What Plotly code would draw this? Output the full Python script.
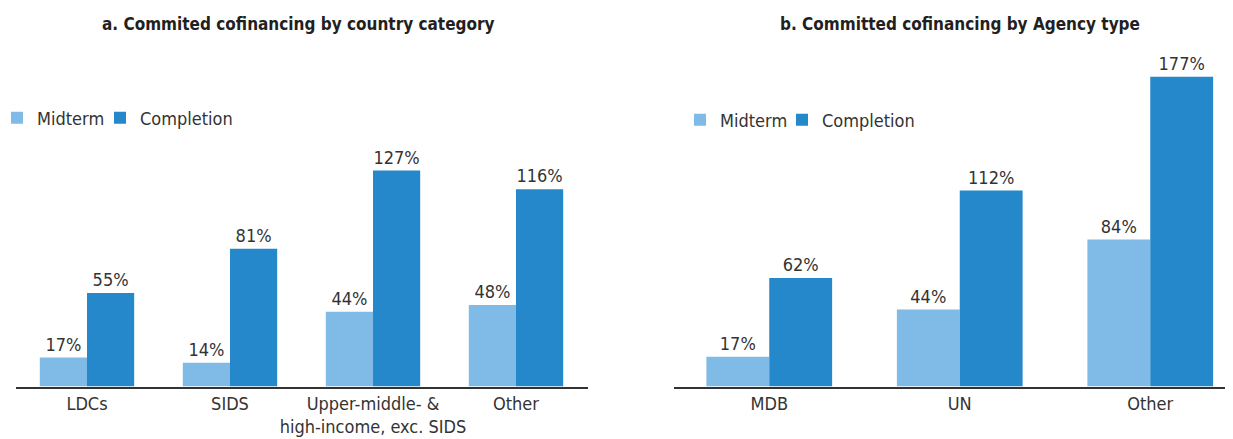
import plotly.graph_objects as go

# Data
cat_a = ["LDCs", "SIDS", "Upper-middle- &<br>high-income, exc. SIDS", "Other"]
mid_a = [17, 14, 44, 48]
comp_a = [55, 81, 127, 116]

cat_b = ["MDB", "UN", "Other"]
mid_b = [17, 44, 84]
comp_b = [62, 112, 177]

series_names = ["Midterm", "Completion"]
c_mid = "#7FBBE6"
c_comp = "#2588CB"

FONT = "DejaVu Sans Condensed, Roboto, sans-serif"
TXT = "#333333"
W, H = 1233, 439
OFF = 8  # page body margin


def px_x(p):
    return (p - OFF) / W


def px_y(p):
    return (H - (p - OFF)) / H


fig = go.Figure()

fig.add_trace(go.Bar(x=cat_a, y=mid_a, name=series_names[0], marker_color=c_mid,
                     text=[f"{v}%" for v in mid_a], textposition="outside",
                     cliponaxis=False, xaxis="x", yaxis="y", legend="legend"))
fig.add_trace(go.Bar(x=cat_a, y=comp_a, name=series_names[1], marker_color=c_comp,
                     text=[f"{v}%" for v in comp_a], textposition="outside",
                     cliponaxis=False, xaxis="x", yaxis="y", legend="legend2"))
fig.add_trace(go.Bar(x=cat_b, y=mid_b, name=series_names[0], marker_color=c_mid,
                     text=[f"{v}%" for v in mid_b], textposition="outside",
                     cliponaxis=False, xaxis="x2", yaxis="y2", legend="legend3"))
fig.add_trace(go.Bar(x=cat_b, y=comp_b, name=series_names[1], marker_color=c_comp,
                     text=[f"{v}%" for v in comp_b], textposition="outside",
                     cliponaxis=False, xaxis="x2", yaxis="y2", legend="legend4"))

fig.update_traces(textfont=dict(family=FONT, size=18, color=TXT), marker_line_width=0)

ybot = px_y(386.5)
ytop = px_y(40)
plot_h = 386.5 - 40

axis_common = dict(showgrid=False, zeroline=False, showline=True, linecolor="#333333",
                   linewidth=1.5, ticks="", tickfont=dict(family=FONT, size=18, color=TXT))

leg_common = dict(orientation="h", xanchor="left", yanchor="middle",
                  font=dict(family=FONT, size=18, color=TXT), bgcolor="rgba(0,0,0,0)",
                  itemwidth=30, tracegroupgap=0)

fig.update_layout(
    width=W, height=H,
    margin=dict(l=0, r=0, t=0, b=0, autoexpand=False),
    paper_bgcolor="white", plot_bgcolor="white",
    barmode="group", bargap=0.34, bargroupgap=0,
    xaxis=dict(domain=[px_x(15.5), px_x(587.5)], range=[-0.5, 3.5], anchor="y", **axis_common),
    yaxis=dict(domain=[ybot, ytop], range=[0, plot_h / 1.7], visible=False, anchor="x"),
    xaxis2=dict(domain=[px_x(674), 1.0], range=[-0.5, -0.5 + (W - (674 - OFF)) / 190.5],
                anchor="y2", **axis_common),
    yaxis2=dict(domain=[ybot, ytop], range=[0, plot_h / 1.75], visible=False, anchor="x2"),
    legend=dict(x=px_x(-3), y=px_y(118), **leg_common),
    legend2=dict(x=px_x(100), y=px_y(118), **leg_common),
    legend3=dict(x=px_x(680), y=px_y(120), **leg_common),
    legend4=dict(x=px_x(782), y=px_y(120), **leg_common),
    showlegend=True,
    annotations=[
        dict(text="<b>a. Commited cofinancing by country category</b>", x=px_x(298), y=px_y(24),
             xref="paper", yref="paper", showarrow=False, xanchor="center", yanchor="middle",
             font=dict(family=FONT, size=17, color="#231F20")),
        dict(text="<b>b. Committed cofinancing by Agency type</b>", x=px_x(960), y=px_y(24),
             xref="paper", yref="paper", showarrow=False, xanchor="center", yanchor="middle",
             font=dict(family=FONT, size=17, color="#231F20")),
    ],
)

fig.write_html("out.html")
